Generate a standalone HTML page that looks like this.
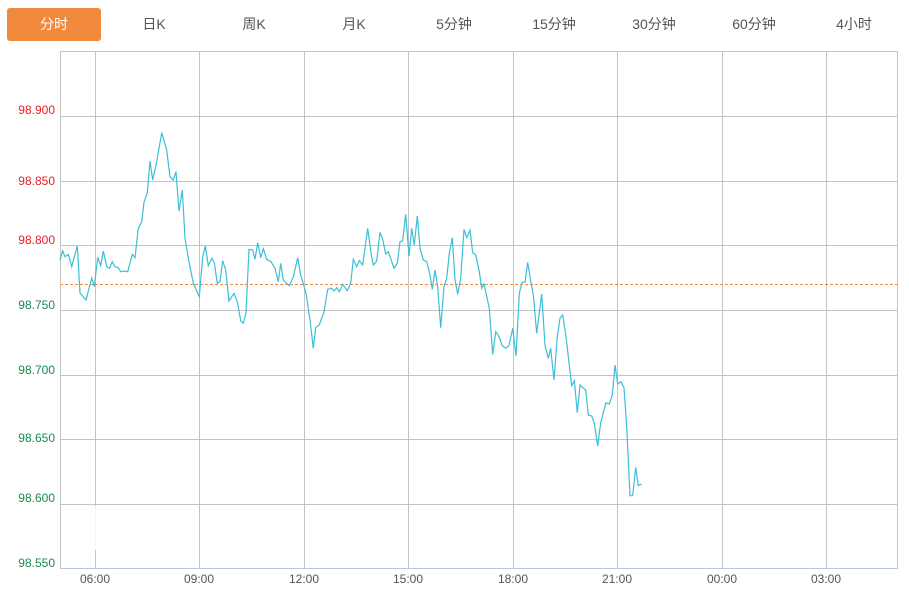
<!DOCTYPE html>
<html><head><meta charset="utf-8"><style>
body{margin:0;width:909px;height:594px;background:#fff;overflow:hidden;font-family:"Liberation Sans","Noto Sans CJK SC",sans-serif;}
.tab{position:absolute;top:8px;height:33px;line-height:33px;width:100px;text-align:center;font-size:14px;color:#555;}
.act{background:#f28a3e;color:#fff;border-radius:3px;left:7px;width:94px;}
</style></head><body>
<div class="tab act">分时</div>
<div class="tab" style="left:104px">日K</div>
<div class="tab" style="left:204px">周K</div>
<div class="tab" style="left:304px">月K</div>
<div class="tab" style="left:404px">5分钟</div>
<div class="tab" style="left:504px">15分钟</div>
<div class="tab" style="left:604px">30分钟</div>
<div class="tab" style="left:704px">60分钟</div>
<div class="tab" style="left:804px">4小时</div>
<svg width="909" height="594" style="position:absolute;left:0;top:0" font-family="Liberation Sans, sans-serif" font-size="12">
<g stroke="#c4c4c4" stroke-width="1" fill="none">
<rect x="60.5" y="51.5" width="837" height="517"/>
<path d="M60 116.5H897M60 181.5H897M60 245.5H897M60 310.5H897M60 375.5H897M60 439.5H897M60 504.5H897"/>
<path d="M95.5 52V568M199.5 52V568M304.5 52V568M408.5 52V568M513.5 52V568M617.5 52V568M722.5 52V568M826.5 52V568"/>
</g>
<line x1="60" y1="568.5" x2="897" y2="568.5" stroke="#b8c8d8"/>
<rect x="62" y="506" width="136" height="44" fill="#fff" opacity="0.85"/>
<line x1="60" y1="284.5" x2="897" y2="284.5" stroke="#f28a3e" stroke-width="1" stroke-dasharray="3,2"/>
<g text-anchor="end">
<text x="55" y="114" fill="#e8202a">98.900</text>
<text x="55" y="185" fill="#e8202a">98.850</text>
<text x="55" y="244" fill="#e8202a">98.800</text>
<text x="55" y="309" fill="#1a8a52">98.750</text>
<text x="55" y="374" fill="#1a8a52">98.700</text>
<text x="55" y="442" fill="#1a8a52">98.650</text>
<text x="55" y="502" fill="#1a8a52">98.600</text>
<text x="55" y="567" fill="#1a8a52">98.550</text>
</g>
<g text-anchor="middle" fill="#555">
<text x="95" y="583">06:00</text><text x="199" y="583">09:00</text><text x="304" y="583">12:00</text><text x="408" y="583">15:00</text><text x="513" y="583">18:00</text><text x="617" y="583">21:00</text><text x="722" y="583">00:00</text><text x="826" y="583">03:00</text>
</g>
<polyline fill="none" stroke="#3bbfd6" stroke-width="1.2" points="60,260 62.7,250.7 65,256.7 68.3,254.3 71.7,266.7 77.3,246 80,293 86,300 91.7,278 94.3,286.7 97.7,257.3 100.7,265.7 103.3,251 106.7,266.7 109.3,268.3 112.3,261.7 115,266.7 118.3,267.7 120.7,271.7 125,271 127.7,271.7 132.3,254.3 135,257.7 138.3,228.3 141.7,221.7 144,202.3 147.3,192.7 150,161 152.7,180 156.7,161.7 161.7,132.7 166.7,150 170,176.7 173.3,180 176,171.7 179,211 182.3,190 185,238.3 188.3,258.3 193.3,283.3 199.3,296.7 202.7,256.7 205.3,246 208.3,265.7 211.7,258.3 214.3,262.7 217.3,283.3 220,281.7 222.7,260.7 225.7,270 229,301 234,293.3 237.3,301.7 240.7,320.7 243.3,323.3 246,312.7 249,249.3 252.7,250 255,259.3 257.7,242.7 260.7,257.7 263.3,248.7 266.7,259.3 271,261.7 275,268.3 278.3,281.7 280.7,263.3 283.3,280 289.3,285.7 293.3,276.7 297.7,257.7 300.7,275 306,293.3 310,320 313.3,348.3 315.7,327.3 319.3,325 324,311.7 327.7,289.3 331.7,288.3 334,291 336.7,287.7 339.3,291.7 342.7,284.3 347.3,290.7 350.7,283.3 353.3,259.3 356.7,266.7 359.3,260.7 362.7,265 367.7,228.3 371,253.3 373.3,265 376.7,261 380,232.3 382.7,239.3 385.7,254 388.3,251.7 394,268.3 397.3,263.3 400,241.7 402.7,240.7 405.7,214.3 409,256 411.7,228.3 414.3,245 417.3,216 420,248.3 423.3,260 426.7,261.7 430,275 432.3,289.3 435,270 437.7,286.7 440.7,327.7 444,286.7 446.7,278.3 449.3,253.3 452.3,237.7 455,279.3 457.7,294.3 460.7,278.3 464,229.3 466.7,237.7 470,230 472.7,252.7 475.7,255 479.3,271.7 481.7,288.3 484,284 489.3,308.3 492.7,354.3 495.7,331.7 499,336.7 502.3,345.7 505.7,348.3 509,345.7 512.7,328.3 516,356 519.3,293.3 522,282.3 525,282.3 527.7,262.3 530.7,281 533.3,295 536.7,333.3 541.7,294 545,345.7 548.3,358.3 550.7,348.3 554,380 557.3,336.7 560,318.3 562.7,315 566,336.7 571.7,385.7 574.3,380.7 577.3,412.7 580,385 585.7,390 588.3,415 591.7,416 594.3,423.3 597.7,446 600.7,422.7 606,402.7 609.3,404 612.3,395 615,365 617.7,384 621,381.7 624,387.7 626.7,426.7 630,495.7 632.7,495.7 635.7,467.3 638.3,485.7 641.7,484"/>
</svg>
</body></html>
